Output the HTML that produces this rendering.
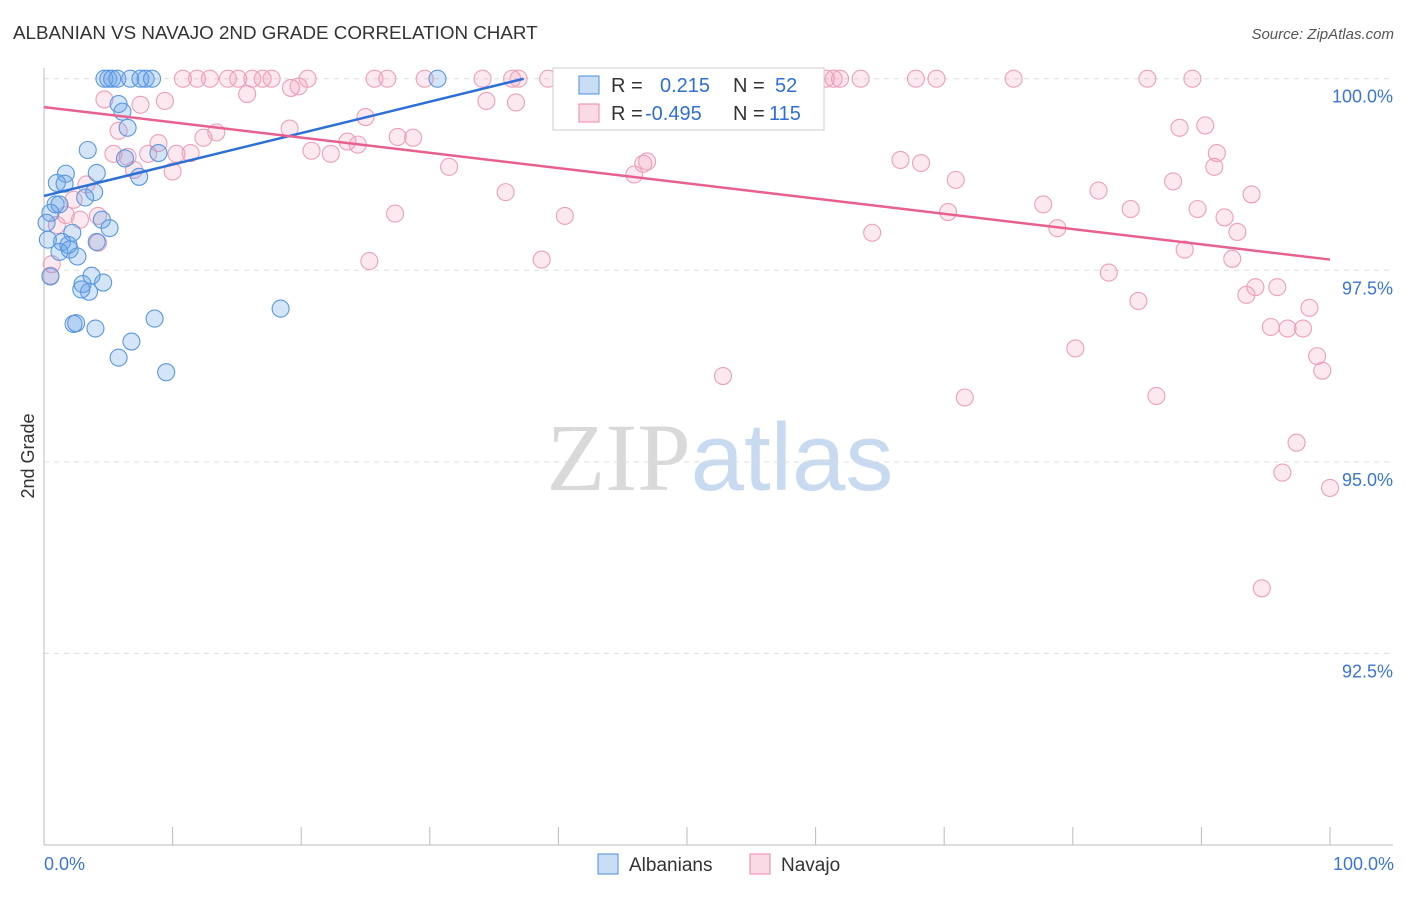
<!DOCTYPE html>
<html><head><meta charset="utf-8"><style>
body{margin:0;background:#fff;font-family:"Liberation Sans",sans-serif}
svg text{font-family:"Liberation Sans",sans-serif}
</style></head><body>
<svg id="chart" width="1406" height="892" xmlns="http://www.w3.org/2000/svg">
<text x="13" y="39" font-size="18.8" fill="#333">ALBANIAN VS NAVAJO 2ND GRADE CORRELATION CHART</text>
<text x="1394" y="39" font-size="15" fill="#555" text-anchor="end" font-style="italic">Source: ZipAtlas.com</text>
<text x="720" y="490" font-size="96" text-anchor="middle"><tspan fill="#d9d9d9" font-family="Liberation Serif">ZIP</tspan><tspan fill="#c8daf0">atlas</tspan></text>
<text transform="translate(34,456) rotate(-90)" font-size="18" fill="#333" text-anchor="middle">2nd Grade</text>
<g id="grid"></g><g id="axes"></g><g id="pts"></g><g id="trend"></g>
<g>
<rect x="553" y="68" width="271" height="62" fill="#fff" stroke="#ccc"/>
<rect x="579" y="76" width="20" height="18" fill="rgba(100,160,230,0.35)" stroke="#4a8fdc"/>
<rect x="579" y="104" width="20" height="18" fill="rgba(240,150,180,0.35)" stroke="#e88aa8"/>
<text x="611" y="92" font-size="20" fill="#333">R = <tspan fill="#2f6fd6" x="660">0.215</tspan><tspan fill="#333" x="733">N = </tspan><tspan fill="#2f6fd6" x="775">52</tspan></text>
<text x="611" y="120" font-size="20" fill="#333">R = <tspan fill="#2f6fd6" x="645">-0.495</tspan><tspan fill="#333" x="733">N = </tspan><tspan fill="#2f6fd6" x="769">115</tspan></text>
</g>
<g>
<rect x="598" y="854" width="20" height="20" fill="rgba(100,160,230,0.35)" stroke="#4a8fdc"/>
<text x="629" y="871" font-size="19" fill="#333">Albanians</text>
<rect x="750" y="854" width="20" height="20" fill="rgba(240,150,180,0.35)" stroke="#e88aa8"/>
<text x="781" y="871" font-size="19" fill="#333">Navajo</text>
</g>
</svg>
<script>
const blueX=[4.7,5.0,5.3,5.7,6.7,7.5,7.9,8.4,30.6,5.8,6.1,6.5,3.4,8.9,6.3,1.7,4.1,1.0,1.6,7.4,3.9,3.2,0.9,1.2,0.5,4.5,5.1,2.2,1.4,1.9,4.1,1.2,2.0,2.6,0.5,3.7,4.6,3.0,3.5,2.9,2.3,2.5,4.0,8.6,18.4,6.8,5.8,9.5,0.2,0.3];
const blueY=[100,100,100,100,100,100,100,100,100,99.67,99.57,99.36,99.07,99.03,98.96,98.76,98.77,98.64,98.63,98.72,98.52,98.45,98.36,98.36,98.25,98.16,98.05,97.99,97.87,97.83,97.87,97.74,97.77,97.68,97.42,97.43,97.34,97.32,97.22,97.25,96.80,96.81,96.74,96.87,97.0,96.57,96.36,96.17,98.12,97.90];
const pinkX=[10.8,11.9,12.9,14.3,15.1,16.2,17.0,17.7,20.5,25.7,26.7,29.6,34.1,36.4,36.9,39.2,40.6,43.3,45.9,52.6,54.2,60.8,61.4,61.9,63.5,67.8,69.4,75.4,85.8,89.3,
4.7,7.5,9.4,15.8,19.2,19.8,34.4,36.7,56.5,5.8,5.4,6.5,8.9,10.0,10.3,11.4,12.4,13.4,19.1,20.8,22.3,23.6,24.4,25.0,27.5,28.7,31.5,35.9,40.5,27.3,25.3,38.7,45.9,46.6,46.9,52.8,64.4,66.6,68.2,70.9,70.3,71.6,77.7,78.8,80.2,82.0,82.8,84.5,85.1,86.5,87.8,88.3,88.7,89.7,90.3,91.0,91.2,91.8,92.4,92.8,93.5,93.9,94.2,95.9,95.4,96.3,96.7,97.4,97.9,98.4,99.0,99.4,100.0,94.7,1.7,2.8,4.2,2.3,3.3,1.0,0.6,0.5,7.0,8.1,4.2];
const pinkY=[100,100,100,100,100,100,100,100,100,100,100,100,100,100,100,100,100,100,100,100,100,100,100,100,100,100,100,100,100,100,
99.73,99.66,99.71,99.80,99.88,99.90,99.71,99.69,99.69,99.32,99.02,98.98,99.16,98.79,99.02,99.03,99.23,99.30,99.35,99.06,99.02,99.18,99.14,99.50,99.24,99.23,98.85,98.52,98.21,98.24,97.62,97.64,98.75,98.89,98.92,96.12,97.99,98.94,98.90,98.68,98.26,95.84,98.36,98.05,96.48,98.54,97.47,98.30,97.10,95.86,98.66,99.36,97.77,98.30,99.39,98.85,99.03,98.19,97.65,98.00,97.18,98.49,97.28,97.28,96.76,94.86,96.74,95.25,96.74,97.01,96.38,96.19,94.66,93.35,98.22,98.16,97.86,98.42,98.62,98.09,97.58,97.43,98.81,99.02,98.21];
const blueTrendX=[0,37.3], blueTrendY=[98.47,100];
const pinkTrendX=[0,100], pinkTrendY=[99.63,97.64];
const yTicks=[100,97.5,95,92.5];
const yTickLabels=["100.0%","97.5%","95.0%","92.5%"];
const xEndLabels=["0.0%","100.0%"];

const X0=44,X1=1330,Ymin=90,Ymax=100.14,PT=68,PB=845;
const sx=v=>X0+(v/100)*(X1-X0);
const sy=v=>PB-(v-Ymin)/(Ymax-Ymin)*(PB-PT);
const NS="http://www.w3.org/2000/svg";
function mk(tag,attrs,parent){const e=document.createElementNS(NS,tag);for(const k in attrs)e.setAttribute(k,attrs[k]);document.getElementById(parent).appendChild(e);return e;}
yTicks.forEach((t,i)=>{
 const g=mk('line',{x1:X0,x2:1393,y1:sy(t),y2:sy(t),stroke:'#ddd','stroke-dasharray':'5,5'},'grid');
 
 
 const l=mk('text',{x:1393,y:sy(t)+24,'font-size':18,fill:'#3a75d6','text-anchor':'end'},'grid');
 l.textContent=yTickLabels[i];
 
 
});
const ya=mk('line',{x1:X0,x2:X0,y1:PT,y2:PB,stroke:'#bbb'},'axes');


const xa=mk('line',{x1:X0,x2:1393,y1:PB,y2:PB,stroke:'#bbb'},'axes');


for(let i=0;i<=10;i++){
 const t=mk('line',{x1:sx(i*10),x2:sx(i*10),y1:827,y2:PB,stroke:'#bbb'},'axes');
 
 
}
[[0,'start',44],[100,'end',1394]].forEach((d,i)=>{
 const l=mk('text',{x:d[2],y:870,'font-size':18,fill:'#3a75d6','text-anchor':d[1]},'axes');
 l.textContent=xEndLabels[i];
 
 
});
pinkX.forEach((v,i)=>{
 const c=mk('circle',{cx:sx(v),cy:sy(pinkY[i]),r:8.5,fill:'rgba(240,150,180,0.22)',stroke:'#eca0b8','stroke-width':1.1},'pts');
 
 
});
blueX.forEach((v,i)=>{
 const c=mk('circle',{cx:sx(v),cy:sy(blueY[i]),r:8.5,fill:'rgba(100,160,230,0.28)',stroke:'#5b97df','stroke-width':1.1},'pts');
 
 
});
const bt=mk('line',{x1:sx(blueTrendX[0]),y1:sy(blueTrendY[0]),x2:sx(blueTrendX[1]),y2:sy(blueTrendY[1]),stroke:'#2c6fd6','stroke-width':2.5},'trend');


const pt=mk('line',{x1:sx(pinkTrendX[0]),y1:sy(pinkTrendY[0]),x2:sx(pinkTrendX[1]),y2:sy(pinkTrendY[1]),stroke:'#e8608e','stroke-width':2.5},'trend');


</script>
</body></html>
